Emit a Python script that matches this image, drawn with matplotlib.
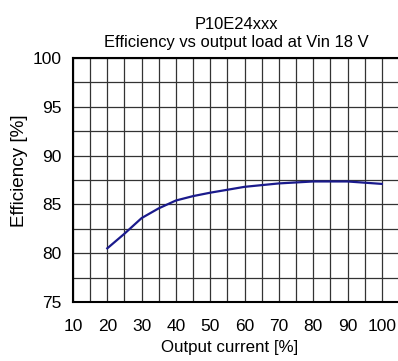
import matplotlib
matplotlib.use("Agg")
import matplotlib.pyplot as plt
import numpy as np

plt.rcParams['font.family'] = ['Liberation Sans', 'DejaVu Sans']

load = [20, 25, 30, 35, 40, 45, 50, 55, 60, 70, 80, 90, 100]
efficiency = [80.5, 82.0, 83.6, 84.6, 85.4, 85.85, 86.2, 86.5, 86.8, 87.15, 87.35, 87.35, 87.1]

fig = plt.figure(figsize=(3.98, 3.61), dpi=100)
ax = fig.add_axes([73 / 398, 1 - 302 / 361, 326 / 398, 244 / 361])

ax.plot(load, efficiency, color='#1a1a8c', linewidth=1.6, zorder=3)

ax.set_xlim(10, 105)
ax.set_ylim(75, 100)
ax.set_xticks(np.arange(10, 101, 10))
ax.set_xticks(np.arange(10, 106, 5), minor=True)
ax.set_yticks(np.arange(75, 101, 5))
ax.set_yticks(np.arange(75, 101, 2.5), minor=True)
ax.grid(True, which='both', color='#333333', linewidth=0.9)
ax.tick_params(which='both', length=0, labelsize=12.5)
ax.tick_params(axis='x', pad=12)
ax.tick_params(axis='y', pad=8.5)
for side in ['left', 'bottom', 'top']:
    ax.spines[side].set_linewidth(1.5)
ax.spines['right'].set_visible(False)

ax.set_xlabel('Output current [%]', fontsize=12.2)
ax.xaxis.set_label_coords(0.48, -0.156)
ax.set_ylabel('Efficiency [%]', fontsize=13.6)
ax.yaxis.set_label_coords(-0.138, 0.54)
ax.set_title('P10E24xxx\nEfficiency vs output load at Vin 18 V', fontsize=11.9, pad=8)

fig.savefig("out.png", dpi=100)
